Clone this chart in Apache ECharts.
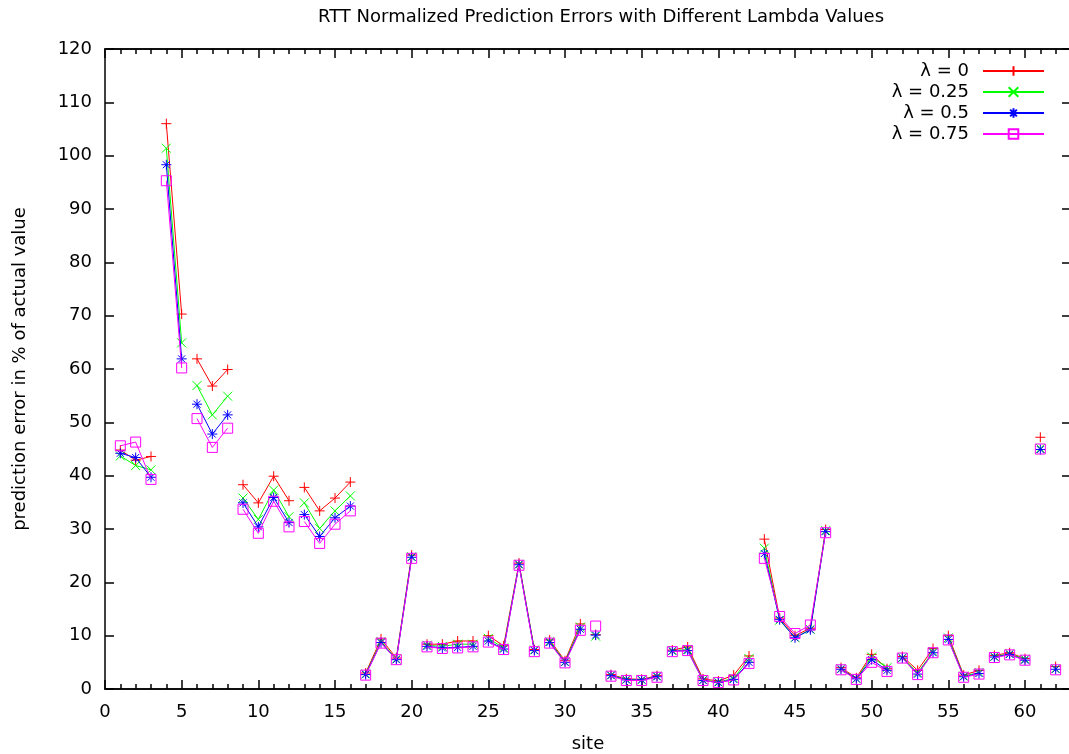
<!DOCTYPE html>
<html>
<head>
<meta charset="utf-8">
<script src="https://cdn.jsdelivr.net/npm/echarts@6/dist/echarts.min.js"></script>
<style>
  html, body { margin: 0; padding: 0; background: #ffffff; }
  #chart { width: 1069px; height: 754px; }
</style>
</head>
<body>
<div id="chart"></div>
<script>
// Site numbers along the x axis
const sites = [
  1, 2, 3, 4, 5, 6, 7, 8, 9, 10, 11, 12, 13, 14, 15, 16, 17, 18, 19, 20,
  21, 22, 23, 24, 25, 26, 27, 28, 29, 30, 31, 32, 33, 34, 35, 36, 37, 38, 39, 40,
  41, 42, 43, 44, 45, 46, 47, 48, 49, 50, 51, 52, 53, 54, 55, 56, 57, 58, 59, 60,
  61, 62
];

// Sites where a new connected run of points begins (the line breaks before them)
const segmentStarts = [1, 4, 6, 9, 13, 17, 21, 25, 29, 32, 33, 37, 43, 48, 52, 55, 58, 61, 62];

const seriesNames = ['λ = 0', 'λ = 0.25', 'λ = 0.5', 'λ = 0.75'];

// Normalized prediction error (% of actual value) per site
const lambda0 = [
  44.8, 42.9, 43.6, 106.0, 70.3, 61.9, 56.8, 59.9, 38.3, 34.9, 39.9, 35.3, 37.8, 33.4, 35.8, 38.8,
  3.0, 9.4, 5.8, 25.1, 8.4, 8.4, 9.0, 9.0, 10.0, 8.1, 23.6, 7.4, 9.2, 5.3, 12.2, 10.2,
  2.7, 1.9, 1.8, 2.5, 7.3, 7.9, 1.9, 1.5, 2.6, 6.2, 28.1, 13.3, 10.0, 11.4, 29.9,
  4.0, 2.1, 6.5, 3.8, 6.1, 3.5, 7.6, 10.0, 2.6, 3.5, 6.3, 6.8, 5.7, 47.2, 4.2
];
const lambda025 = [
  43.7, 41.9, 41.1, 101.4, 64.9, 56.9, 51.4, 54.9, 35.8, 31.8, 37.3, 32.3, 34.9, 30.1, 33.4, 36.2,
  2.8, 8.9, 5.6, 24.8, 8.2, 8.0, 8.4, 8.4, 9.5, 7.7, 23.4, 7.3, 8.9, 5.1, 11.6, 9.9,
  2.6, 1.8, 1.7, 2.4, 7.2, 7.4, 1.7, 1.3, 2.0, 5.7, 26.4, 12.9, 9.6, 11.2, 29.7,
  3.8, 1.9, 6.0, 4.0, 5.9, 3.0, 7.0, 9.6, 2.4, 3.1, 6.1, 6.6, 5.6, 45.1, 3.8
];
const lambda05 = [
  44.2, 43.4, 39.7, 98.3, 61.9, 53.4, 47.8, 51.4, 34.9, 30.4, 35.9, 31.2, 32.7, 28.6, 32.1, 34.3,
  2.7, 8.7, 5.5, 24.7, 8.0, 7.7, 7.8, 8.0, 9.0, 7.5, 23.3, 7.2, 8.7, 5.0, 11.2, 10.1,
  2.5, 1.7, 1.7, 2.3, 7.1, 7.2, 1.6, 1.2, 1.8, 5.0, 25.4, 13.0, 9.6, 11.1, 29.5,
  3.7, 1.9, 5.5, 3.5, 5.8, 2.8, 6.8, 9.3, 2.3, 2.9, 6.0, 6.5, 5.4, 44.9, 3.7
];
const lambda075 = [
  45.6, 46.3, 39.3, 95.3, 60.2, 50.7, 45.3, 48.9, 33.7, 29.2, 35.2, 30.4, 31.4, 27.3, 30.9, 33.4,
  2.6, 8.6, 5.5, 24.5, 7.9, 7.6, 7.7, 7.9, 8.8, 7.4, 23.2, 7.0, 8.6, 4.9, 11.0, 11.8,
  2.4, 1.6, 1.6, 2.2, 7.0, 7.2, 1.6, 1.2, 1.7, 4.8, 24.5, 13.6, 10.4, 12.0, 29.3,
  3.6, 1.8, 5.0, 3.3, 5.8, 2.7, 6.8, 9.2, 2.2, 2.8, 5.9, 6.4, 5.4, 45.0, 3.6
];

const seriesValues = [lambda0, lambda025, lambda05, lambda075];
const seriesColors = ['#ff0000', '#00ff00', '#0000ff', '#ff00ff'];
const seriesSymbols = [
  'path://M0,5L10,5M5,0L5,10',                                   // plus
  'path://M0,0L10,10M0,10L10,0',                                 // cross
  'path://M0,5L10,5M5,0L5,10M1.5,1.5L8.5,8.5M1.5,8.5L8.5,1.5',   // asterisk
  'path://M0,0L10,0L10,10L0,10Z'                                 // open square
];
const seriesSymbolSizes = [10, 9, 10, 10];

const FONT = '"DejaVu Sans", Verdana, sans-serif';
const FONT_SIZE = 18;
const X_MIN = 0, X_MAX = 63, Y_MIN = 0, Y_MAX = 120;

// Insert a gap marker before every new run so the line is broken there
function buildSeriesData(values) {
  const out = [];
  sites.forEach((s, i) => {
    if (i > 0 && segmentStarts.includes(s)) out.push([s - 0.5, '-']);
    out.push([s, values[i]]);
  });
  return out;
}

function xAxisDef(position, interval, tickLen, showLabels) {
  return {
    type: 'value', position: position, min: X_MIN, max: X_MAX, interval: interval,
    axisLine: { show: true, onZero: false, lineStyle: { color: '#000', width: 1.5 } },
    axisTick: { show: true, inside: true, length: tickLen, lineStyle: { color: '#000', width: 1.5 } },
    axisLabel: {
      show: showLabels, margin: 14, color: '#000', fontSize: FONT_SIZE, fontFamily: FONT,
      showMaxLabel: false
    },
    splitLine: { show: false }
  };
}

const chart = echarts.init(document.getElementById('chart'), null, { renderer: 'canvas' });

const xAxes = [
  Object.assign(xAxisDef('bottom', 5, 9, true), {
    name: 'site', nameLocation: 'middle', nameGap: 46,
    nameTextStyle: { color: '#000', fontSize: FONT_SIZE, fontFamily: FONT }
  }),
  xAxisDef('bottom', 1, 5, false),
  xAxisDef('top', 5, 9, false),
  xAxisDef('top', 1, 5, false)
];

const yAxes = [
  {
    type: 'value', position: 'left', min: Y_MIN, max: Y_MAX, interval: 10,
    name: 'prediction error in % of actual value', nameLocation: 'middle', nameGap: 76,
    nameTextStyle: { color: '#000', fontSize: FONT_SIZE, fontFamily: FONT },
    axisLine: { show: true, onZero: false, lineStyle: { color: '#000', width: 1.5 } },
    axisTick: { show: true, inside: true, length: 9, lineStyle: { color: '#000', width: 1.5 } },
    axisLabel: { margin: 13, color: '#000', fontSize: FONT_SIZE, fontFamily: FONT },
    splitLine: { show: false }
  },
  {
    type: 'value', position: 'right', min: Y_MIN, max: Y_MAX, interval: 10,
    axisLine: { show: true, onZero: false, lineStyle: { color: '#000', width: 1.5 } },
    axisTick: { show: true, inside: true, length: 9, lineStyle: { color: '#000', width: 1.5 } },
    axisLabel: { show: false },
    splitLine: { show: false }
  }
];

const series = seriesNames.map((name, k) => ({
  name: name,
  type: 'line',
  xAxisIndex: 0,
  yAxisIndex: 0,
  data: buildSeriesData(seriesValues[k]),
  connectNulls: false,
  symbol: seriesSymbols[k],
  symbolSize: seriesSymbolSizes[k],
  showAllSymbol: true,
  lineStyle: { color: seriesColors[k], width: 1 },
  itemStyle: { color: 'rgba(0,0,0,0)', borderColor: seriesColors[k], borderWidth: 1 },
  emphasis: { disabled: true },
  z: 2 + k
}));

chart.setOption({
  animation: false,
  backgroundColor: '#ffffff',
  // plot box runs slightly past the right edge of the canvas
  grid: {
    left: 105, top: 49, width: 966, height: 640,
    containLabel: false, outerBoundsMode: 'none'
  },
  graphic: [{
    type: 'text', x: 601, y: 17,
    style: {
      text: 'RTT Normalized Prediction Errors with Different Lambda Values',
      fill: '#000', fontSize: FONT_SIZE, fontFamily: FONT,
      textAlign: 'center', textVerticalAlign: 'middle'
    }
  }],
  legend: {
    orient: 'vertical', align: 'right', right: 19, top: 57,
    itemWidth: 61, itemHeight: 12, itemGap: 3,
    textStyle: { color: '#000', fontSize: FONT_SIZE, fontFamily: FONT, padding: [0, 9, 0, 0] },
    data: seriesNames,
    selectedMode: false
  },
  tooltip: { show: false },
  xAxis: xAxes,
  yAxis: yAxes,
  series: series
});
</script>
</body>
</html>
